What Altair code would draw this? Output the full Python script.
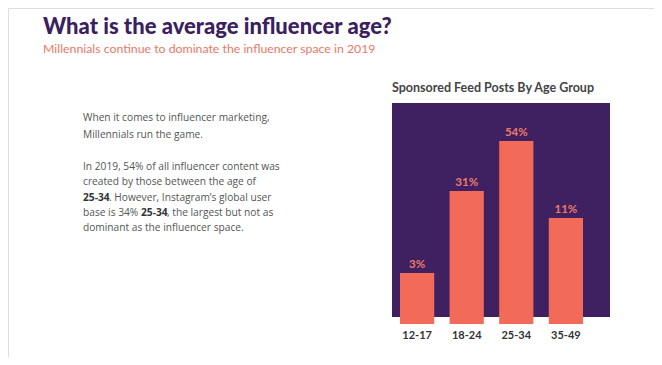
import altair as alt
import pandas as pd

# ---- data ----
age_groups = ["12-17", "18-24", "25-34", "35-49"]
share_labels = ["3%", "31%", "54%", "11%"]
# bar heights as drawn in the infographic (not proportional to the shares)
bar_heights = [51, 133, 183, 106]

title_text = "What is the average influencer age?"
subtitle_text = "Millennials continue to dominate the influencer space in 2019"
chart_title = "Sponsored Feed Posts By Age Group"

df = pd.DataFrame({"age": age_groups, "label": share_labels, "h": bar_heights})

PURPLE = "#3f2162"
CORAL = "#f26a58"
LABEL_CORAL = "#ee7a68"
BODY = "#555555"

base = alt.Chart(df)

x_enc = alt.X("age:N", sort=age_groups, axis=None,
              scale=alt.Scale(range=[392, 575], paddingInner=0.31, paddingOuter=0))
y_enc = alt.Y("h:Q", axis=None, stack=None, scale=alt.Scale(domain=[0, 200], range=[316, 116]))

bg = base.mark_rect(color=PURPLE).encode(
    x=alt.value(384), x2=alt.value(602), y=alt.value(95), y2=alt.value(309)
).transform_filter("datum.age == '12-17'")

bars = base.mark_bar(color=CORAL).encode(x=x_enc, y=y_enc, y2=alt.value(316))

vals = base.mark_text(color=LABEL_CORAL, font="Lato", fontWeight="bold", fontSize=11.5,
                      baseline="bottom", dy=-3).encode(x=x_enc, y=y_enc, text="label:N")

ticks = base.mark_text(color="#333333", font="Lato", fontWeight="bold", fontSize=11,
                       baseline="middle").encode(x=x_enc, y=alt.value(328), text="age:N")


def txt(s, x, y, size=10.2, weight="normal", color=BODY, font="Open Sans", align="left", baseline="middle"):
    return base.mark_text(text=s, fontSize=size, fontWeight=weight, color=color, font=font,
                          align=align, baseline=baseline).encode(
        x=alt.value(x), y=alt.value(y)
    ).transform_filter("datum.age == '12-17'")


layers = [
    bg, bars, vals, ticks,
    txt(title_text, 35, 26, size=22, weight=900, color="#3b1f5f", font="Lato", baseline="alphabetic"),
    txt(subtitle_text, 35, 41, size=12.3, color="#e97866", font="Lato"),
    txt(chart_title, 485, 80, size=12.5, weight="bold", color="#444444", font="Lato", align="center"),
    txt("When it comes to influencer marketing,", 75, 110),
    txt("Millennials run the game.", 75, 127),
    txt("In 2019, 54% of all influencer content was", 75, 159),
    txt("created by those between the age of", 75, 174),
    txt("25-34", 75, 190, weight="bold", color="#333333"),
    txt(". However, Instagram\u2019s global user", 101, 190),
    txt("base is 34%", 75, 205),
    txt("25-34", 133, 205, weight="bold", color="#333333"),
    txt(", the largest but not as", 159, 205),
    txt("dominant as the influencer space.", 75, 220),
]

chart = alt.layer(*layers).properties(
    width=646, height=349, padding=0, autosize=alt.AutoSizeParams(type="none")
).configure_view(stroke=None).configure(background="white")

chart.save("out.html", embed_options={"renderer": "svg", "actions": False})
